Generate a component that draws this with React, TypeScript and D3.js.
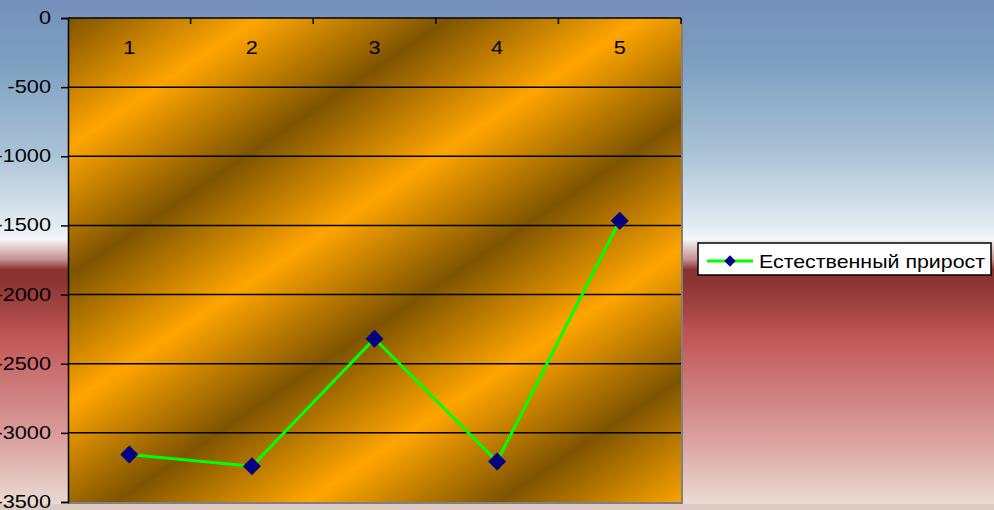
import React, { useRef, useEffect } from "react";
import * as d3 from "d3";

const categories = ["1", "2", "3", "4", "5"];
const values = [-3157, -3241, -2319, -3207, -1466];
const yTicks = [0, -500, -1000, -1500, -2000, -2500, -3000, -3500];
const seriesName = "Естественный прирост";

const W = 994, H = 510;
const plot = { left: 68, top: 18, right: 681, bottom: 502 };
const FONT = "'Liberation Sans', Arial, sans-serif";
const STRETCH = 1.24; // the reference text is drawn wider than its height

const App = () => {
  const svgRef = useRef<SVGSVGElement>(null);

  useEffect(() => {
    const svg = d3.select(svgRef.current);
    svg.selectAll("*").remove();
    svg.attr("width", W).attr("height", H);

    const defs = svg.append("defs");

    // page background: blue sky fading to white, then dark red to pale pink
    const bg = defs.append("linearGradient")
      .attr("id", "bgGrad")
      .attr("x1", 0).attr("y1", 0).attr("x2", 0).attr("y2", 1);
    [
      [0, "#7590bb"], [0.12, "#7b9fc0"], [0.3, "#a9c1d5"], [0.45, "#e4ecf2"],
      [0.475, "#f4f6f9"], [0.485, "#eadada"], [0.515, "#c49090"], [0.535, "#8a3331"],
      [0.56, "#8c3432"], [0.62, "#a84646"], [0.67, "#c45656"], [0.76, "#cc7878"],
      [0.87, "#daa09e"], [1, "#eadbd3"],
    ].forEach(([o, c]) => bg.append("stop").attr("offset", o as number).attr("stop-color", c as string));

    // plot area: repeating diagonal brown/orange bands
    const n = [0.559, 0.829];
    const period = 214;
    const pg = defs.append("linearGradient")
      .attr("id", "plotGrad")
      .attr("gradientUnits", "userSpaceOnUse")
      .attr("spreadMethod", "repeat")
      .attr("x1", plot.left).attr("y1", plot.top)
      .attr("x2", plot.left + n[0] * period).attr("y2", plot.top + n[1] * period);
    [[0, "#7f5400"], [0.5, "#ffa500"], [1, "#7f5400"]]
      .forEach(([o, c]) => pg.append("stop").attr("offset", o as number).attr("stop-color", c as string));

    svg.append("rect").attr("width", W).attr("height", 504).attr("fill", "url(#bgGrad)");
    svg.append("rect").attr("y", 504).attr("width", W).attr("height", 6).attr("fill", "#dccac5");

    const x = d3.scaleBand().domain(categories).range([plot.left, plot.right]);
    const y = d3.scaleLinear().domain([-3500, 0]).range([plot.bottom, plot.top]);

    svg.append("rect")
      .attr("x", plot.left).attr("y", plot.top)
      .attr("width", plot.right - plot.left).attr("height", plot.bottom - plot.top)
      .attr("fill", "url(#plotGrad)");

    // gray plot border right / bottom
    svg.append("path")
      .attr("d", `M${plot.right + 1},${plot.top} V${plot.bottom + 1} H${plot.left}`)
      .attr("fill", "none").attr("stroke", "#808080").attr("stroke-width", 2);

    // gridlines
    svg.append("g").selectAll("line")
      .data(yTicks.filter(d => d !== 0 && d !== -3500))
      .enter().append("line")
      .attr("x1", plot.left).attr("x2", plot.right)
      .attr("y1", d => y(d)).attr("y2", d => y(d))
      .attr("stroke", "#000").attr("stroke-width", 1.5);

    // value axis
    const yAxis = svg.append("g").attr("transform", `translate(${plot.left},0)`)
      .call(d3.axisLeft(y).tickValues(yTicks).tickSize(7).tickFormat(() => ""));
    yAxis.select(".domain").attr("stroke", "#000").attr("stroke-width", 1.5);
    yAxis.selectAll(".tick line").attr("stroke", "#000").attr("stroke-width", 1.5);
    svg.append("g").selectAll("text")
      .data(yTicks)
      .enter().append("text")
      .attr("transform", d => `translate(51,${y(d) + 6}) scale(${STRETCH},1)`)
      .attr("text-anchor", "end")
      .style("font-family", FONT)
      .style("font-size", "17.5px")
      .text(d => String(d));

    // category axis along the zero line
    svg.append("line")
      .attr("x1", plot.left).attr("x2", plot.right)
      .attr("y1", y(0)).attr("y2", y(0))
      .attr("stroke", "#000").attr("stroke-width", 1.5);
    const bounds = categories.slice(1).map(c => x(c)!).concat([plot.right]);
    svg.append("g").selectAll("line")
      .data(bounds)
      .enter().append("line")
      .attr("x1", d => d).attr("x2", d => d)
      .attr("y1", y(0)).attr("y2", y(0) + 6)
      .attr("stroke", "#000").attr("stroke-width", 1.5);
    svg.append("g").selectAll("text")
      .data(categories)
      .enter().append("text")
      .attr("transform", d => `translate(${x(d)! + x.bandwidth() / 2},${y(0) + 36}) scale(${STRETCH},1)`)
      .attr("text-anchor", "middle")
      .style("font-family", FONT)
      .style("font-size", "17.5px")
      .text(d => d);

    // series
    const cx = (i: number) => x(categories[i])! + x.bandwidth() / 2;
    const line = d3.line<number>().x((_, i) => cx(i)).y(d => y(d));
    svg.append("path")
      .datum(values)
      .attr("d", line)
      .attr("fill", "none")
      .attr("stroke", "#00ff00")
      .attr("stroke-width", 3);

    const diamond = d3.symbol().type(d3.symbolSquare).size(162);
    svg.append("g").selectAll("path")
      .data(values)
      .enter().append("path")
      .attr("d", diamond)
      .attr("transform", (d, i) => `translate(${cx(i)},${y(d)}) rotate(45)`)
      .attr("fill", "#000080");

    // legend
    const lg = svg.append("g");
    lg.append("rect")
      .attr("x", 698).attr("y", 243).attr("width", 293).attr("height", 32)
      .attr("fill", "#fff").attr("stroke", "#000").attr("stroke-width", 1.5);
    lg.append("line")
      .attr("x1", 707).attr("x2", 753).attr("y1", 261).attr("y2", 261)
      .attr("stroke", "#00ff00").attr("stroke-width", 3);
    lg.append("path")
      .attr("d", d3.symbol().type(d3.symbolSquare).size(64))
      .attr("transform", "translate(730,261) rotate(45)")
      .attr("fill", "#000080");
    lg.append("text")
      .attr("x", 759).attr("y", 268)
      .attr("textLength", 226)
      .attr("lengthAdjust", "spacingAndGlyphs")
      .style("font-family", FONT)
      .style("font-size", "18.5px")
      .text(seriesName);
  }, []);

  return (
    <svg ref={svgRef} style={{ position: "fixed", left: 0, top: 0, display: "block" }}></svg>
  );
};

export default App;
